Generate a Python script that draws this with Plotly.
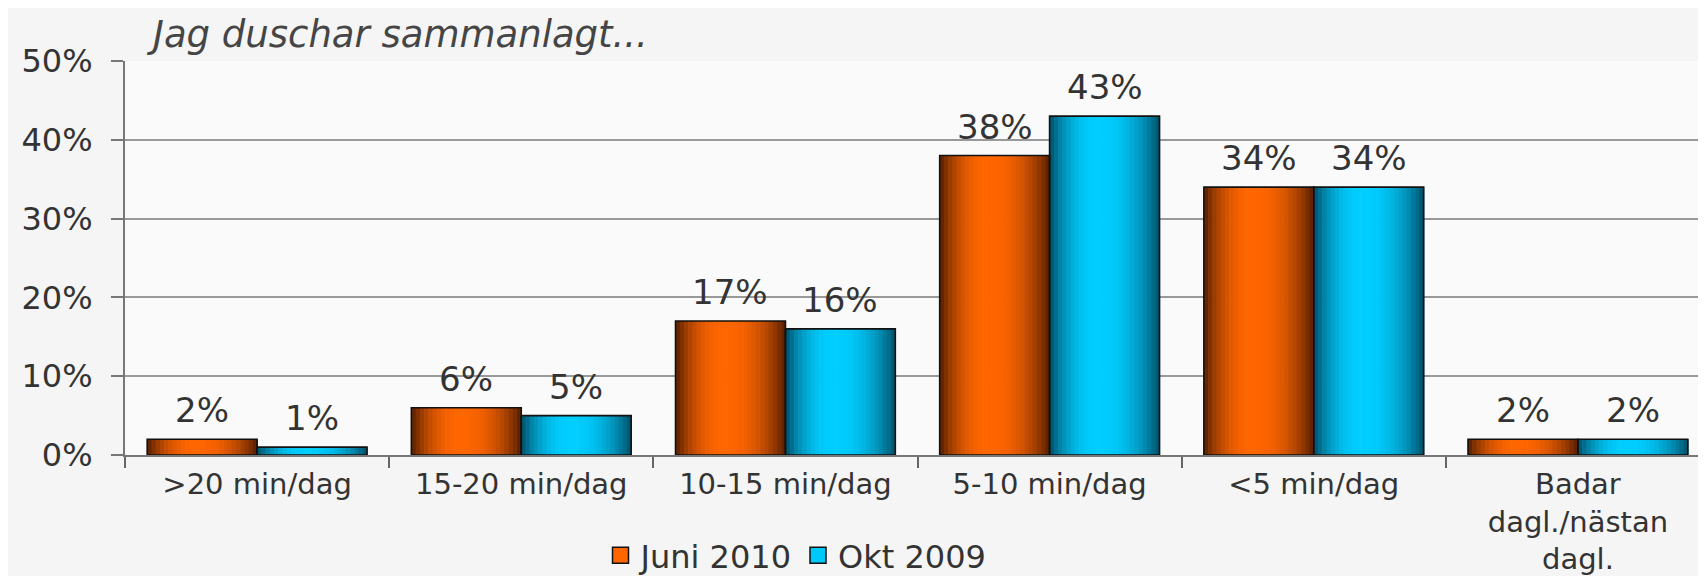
import plotly.graph_objects as go

categories = [">20 min/dag", "15-20 min/dag", "10-15 min/dag", "5-10 min/dag",
              "<5 min/dag", "Badar<br>dagl./nästan<br>dagl."]
juni_2010 = [2, 6, 17, 38, 34, 2]
okt_2009 = [1, 5, 16, 43, 34, 2]
series_names = ["Juni 2010", "Okt 2009"]
y_ticks = [0, 10, 20, 30, 40, 50]
y_tick_labels = ["0%", "10%", "20%", "30%", "40%", "50%"]

FONT = "DejaVu Sans"
BAR_W = 0.416
N_STRIPS = 26
BAR_PX = 110


def mix(c1, c2, t):
    return "rgb({},{},{})".format(*[round(a + (b - a) * t) for a, b in zip(c1, c2)])


styles = [
    {"edge": (85, 30, 0), "center": (255, 102, 0), "solid": "#ff6600", "offset": -BAR_W, "shift": -BAR_PX / 2},
    {"edge": (0, 78, 104), "center": (0, 206, 255), "solid": "#00c8f8", "offset": 0.0, "shift": BAR_PX / 2},
]

fig = go.Figure()

for vals, st in zip([juni_2010, okt_2009], styles):
    sw = BAR_W / N_STRIPS
    for i in range(N_STRIPS):
        s = (i + 0.5) / N_STRIPS
        peak = 0.45
        d = (peak - s) / peak if s < peak else (s - peak) / (1 - peak)
        t = max(0.0, 1 - d ** 2.2)
        fig.add_trace(go.Bar(
            x=categories, y=vals, width=sw * 1.15, offset=st["offset"] + i * sw,
            marker=dict(color=mix(st["edge"], st["center"], t), line=dict(width=0)),
            showlegend=False, hoverinfo="skip"))

for vals, st, name in zip([juni_2010, okt_2009], styles, series_names):
    fig.add_trace(go.Bar(
        x=categories, y=vals, width=BAR_W, offset=st["offset"],
        marker=dict(color="rgba(0,0,0,0)", line=dict(color="#111111", width=1.6)),
        showlegend=False, name=name, hoverinfo="skip"))
    for c, v in zip(categories, vals):
        fig.add_annotation(
            x=c, y=v, xref="x", yref="y", text=f"{v}%", showarrow=False,
            xshift=st["shift"], yshift=7, yanchor="bottom", xanchor="center",
            font=dict(family=FONT, size=34, color="#333333"))

for st, name in zip(styles, series_names):
    fig.add_trace(go.Scatter(
        x=[None], y=[None], mode="markers", name=name,
        marker=dict(symbol="square", size=20, color=st["solid"],
                    line=dict(color="#111111", width=1.5))))

fig.add_annotation(
    text="<i>Jag duschar sammanlagt...</i>", xref="paper", yref="paper",
    x=0.012, y=1.066, xanchor="left", yanchor="middle", showarrow=False,
    font=dict(family=FONT, size=37, color="#454545"))

fig.update_layout(
    width=1706, height=576,
    barmode="overlay",
    paper_bgcolor="#f5f5f5", plot_bgcolor="#fafafa",
    margin=dict(l=117, r=4, t=53, b=129, autoexpand=False),
    font=dict(family=FONT, color="#333333"),
    legend=dict(orientation="h", x=0.30, y=-0.255, xanchor="left", yanchor="middle",
                font=dict(family=FONT, size=32, color="#333333"),
                bgcolor="rgba(0,0,0,0)", itemwidth=30, tracegroupgap=0),
    xaxis=dict(type="category", tickson="boundaries", ticks="outside", ticklen=11,
               tickcolor="#666666", tickwidth=2, showline=True, linecolor="#777777",
               linewidth=2, showgrid=False, tickfont=dict(family=FONT, size=29, color="#333333"),
               ticklabelstandoff=2),
    yaxis=dict(range=[0, 50], tickvals=y_ticks, ticktext=y_tick_labels, ticks="outside",
               ticklen=12, tickcolor="#777777", tickwidth=2, showline=True,
               linecolor="#777777", linewidth=2, showgrid=True, gridcolor="#999999",
               gridwidth=1.5, zeroline=False, ticklabelstandoff=12,
               tickfont=dict(family=FONT, size=32, color="#333333")),
)

fig.write_html("out.html")
